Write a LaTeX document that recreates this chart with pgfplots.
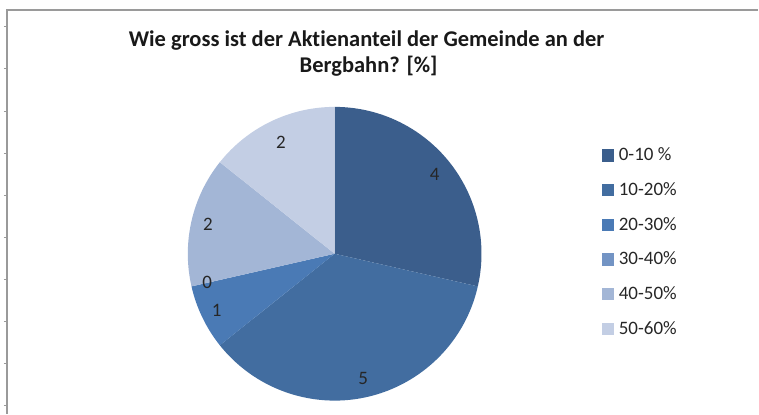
\documentclass[border=0pt]{standalone}
\usepackage{pgfplots}
\pgfplotsset{compat=1.18}
\usepackage{pgfplotstable}
\usepackage{fontspec}
\setmainfont{Carlito}[Ligatures={NoCommon,NoRare}]
\definecolor{cA}{HTML}{3B5E8C}
\definecolor{cB}{HTML}{426DA0}
\definecolor{cC}{HTML}{4A7AB5}
\definecolor{cD}{HTML}{7394C4}
\definecolor{cE}{HTML}{A3B6D6}
\definecolor{cF}{HTML}{C3CEE4}
\definecolor{frame}{HTML}{9A9A9A}
\pgfplotstableread[col sep=comma]{
label,value
0-10 \%,4
10-20\%,5
20-30\%,1
30-40\%,0
40-50\%,2
50-60\%,2
}\piedata
\begin{document}
\begin{tikzpicture}
\pgfplotstablegetelem{0}{value}\of\piedata \let\vA\pgfplotsretval
\pgfplotstablegetelem{1}{value}\of\piedata \let\vB\pgfplotsretval
\pgfplotstablegetelem{2}{value}\of\piedata \let\vC\pgfplotsretval
\pgfplotstablegetelem{3}{value}\of\piedata \let\vD\pgfplotsretval
\pgfplotstablegetelem{4}{value}\of\piedata \let\vE\pgfplotsretval
\pgfplotstablegetelem{5}{value}\of\piedata \let\vF\pgfplotsretval
\pgfmathsetmacro\tot{\vA+\vB+\vC+\vD+\vE+\vF}
\pgfmathsetmacro\aA{90}
\pgfmathsetmacro\aB{\aA-360*\vA/\tot}
\pgfmathsetmacro\aC{\aB-360*\vB/\tot}
\pgfmathsetmacro\aD{\aC-360*\vC/\tot}
\pgfmathsetmacro\aE{\aD-360*\vD/\tot}
\pgfmathsetmacro\aF{\aE-360*\vE/\tot}
\pgfmathsetmacro\aG{\aF-360*\vF/\tot}
\def\R{147bp}
\def\L{128bp}
\begin{axis}[
  hide axis, scale only axis, width=759bp, height=414bp,
  xmin=0, xmax=759, ymin=0, ymax=414, y dir=reverse, clip=false,
  legend cell align=left,
  legend image code/.code={\fill[#1] (0bp,-5.6bp) rectangle (11.4bp,5.6bp);},
  legend style={at={(axis cs:602,148)}, anchor=north west, draw=none, fill=none,
    font=\fontsize{19bp}{22bp}\selectfont, text=black!85,
    row sep=20.2bp, column sep=5.5bp, inner sep=0pt,
    nodes={inner sep=0pt, anchor=west}},
]
% bounding box
\path (axis cs:0,0) rectangle (axis cs:759,414);
% frame
\draw[frame, line width=1.6bp] (axis cs:7,414) -- (axis cs:7,10) -- (axis cs:759,10);
\pgfplotsinvokeforeach{27,69,112,154,196,238,280,322,364,406}{
  \draw[frame, line width=1bp] (axis cs:4,#1) -- (axis cs:7,#1);
}
% wedges
\fill[cA] (axis cs:335,254) -- ++(\aA:\R) arc[start angle=\aA, end angle=\aB, radius=\R] -- cycle;
\fill[cB] (axis cs:335,254) -- ++(\aB:\R) arc[start angle=\aB, end angle=\aC, radius=\R] -- cycle;
\fill[cC] (axis cs:335,254) -- ++(\aC:\R) arc[start angle=\aC, end angle=\aD, radius=\R] -- cycle;
\fill[cE] (axis cs:335,254) -- ++(\aE:\R) arc[start angle=\aE, end angle=\aF, radius=\R] -- cycle;
\fill[cF] (axis cs:335,254) -- ++(\aF:\R) arc[start angle=\aF, end angle=\aG, radius=\R] -- cycle;
% value labels
\tikzset{vl/.style={font=\fontsize{19bp}{22bp}\selectfont, text=black!85, inner sep=0pt}}
\path (axis cs:335,254) ++({(\aA+\aB)/2}:\L) node[vl] {\vA};
\path (axis cs:335,254) ++({(\aB+\aC)/2}:\L) node[vl] {\vB};
\path (axis cs:335,254) ++({(\aC+\aD)/2}:131bp) node[vl] {\vC};
\path (axis cs:335,254) ++({(\aD+\aE)/2}:131bp) node[vl] {\vD};
\path (axis cs:335,254) ++({(\aE+\aF)/2}:130bp) node[vl] {\vE};
\path (axis cs:335,254) ++({(\aF+\aG)/2}:124bp) node[vl] {\vF};
% title
\node[anchor=base, inner sep=0pt, font=\bfseries\fontsize{22.5bp}{26bp}\selectfont, text=black!90] at (axis cs:367,47) {Wie gross ist der Aktienanteil der Gemeinde an der};
\node[anchor=base, inner sep=0pt, font=\bfseries\fontsize{22.5bp}{26bp}\selectfont, text=black!90] at (axis cs:369,73) {Bergbahn? [\%]};
% legend
\addlegendimage{cA}\addlegendentry{0-10 \%}
\addlegendimage{cB}\addlegendentry{10-20\%}
\addlegendimage{cC}\addlegendentry{20-30\%}
\addlegendimage{cD}\addlegendentry{30-40\%}
\addlegendimage{cE}\addlegendentry{40-50\%}
\addlegendimage{cF}\addlegendentry{50-60\%}
\end{axis}
\end{tikzpicture}
\end{document}
